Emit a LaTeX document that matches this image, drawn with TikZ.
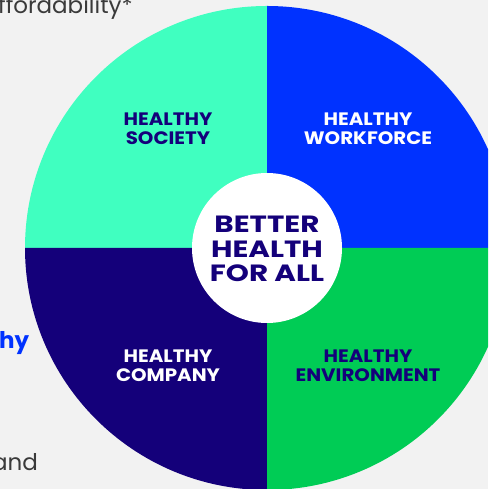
\documentclass[tikz,border=0pt]{standalone}
\usepackage{fontspec}
\setmainfont{Poppins}
\newfontfamily\hubfont[FakeStretch=1.25]{Poppins}
\newfontfamily\quadfont[FakeStretch=1.1]{Poppins}
\definecolor{bg}{HTML}{F2F2F2}
\definecolor{mint}{HTML}{40FFC0}
\definecolor{vivid}{HTML}{0032FF}
\definecolor{leaf}{HTML}{00CC55}
\definecolor{navy}{HTML}{14007A}
\definecolor{ink}{HTML}{3A3A3A}
\begin{document}
\begin{tikzpicture}[x=1pt,y=1pt,
  quadlabel/.style={align=center,font=\quadfont\fontsize{18}{19}\selectfont\bfseries,inner sep=0pt},
  sidetext/.style={anchor=base west,inner sep=0pt,font=\fontsize{23}{23}\selectfont,text=ink}]
\fill[bg] (0,0) rectangle (488,489);
\useasboundingbox (0,0) rectangle (488,489);
\begin{scope}
\clip (0,0) rectangle (488,489);
\coordinate (C) at (267,241);
% four quadrants of the disc
\fill[mint]  (C) -- ++(90:242)  arc[start angle=90, end angle=180,radius=242] -- cycle;
\fill[vivid] (C) -- ++(0:242)   arc[start angle=0,  end angle=90, radius=242] -- cycle;
\fill[navy]  (C) -- ++(180:242) arc[start angle=180,end angle=270,radius=242] -- cycle;
\fill[leaf]  (C) -- ++(270:242) arc[start angle=270,end angle=360,radius=242] -- cycle;
% central disc
\fill[white] (C) circle[radius=75];
\node[align=center,font=\hubfont\fontsize{23.5}{24.5}\selectfont\bfseries,text=navy,inner sep=0pt] (hub) at ([yshift=-1]C) {BETTER\\HEALTH\\FOR ALL};
\node[quadlabel,text=navy]  (society) at (168,360) {HEALTHY\\SOCIETY};
\node[quadlabel,text=white] (workforce) at (368,360) {HEALTHY\\WORKFORCE};
\node[quadlabel,text=white] (company) at (168,123) {HEALTHY\\COMPANY};
\node[quadlabel,text=navy]  (environment) at (368,123) {HEALTHY\\ENVIRONMENT};
% side text running in from the left
\node[sidetext] (afford) at (-2,475) {ffordability*};
\node[sidetext,text=vivid,font=\fontsize{23}{23}\selectfont\bfseries] (hy) at (-1,140) {hy};
\node[sidetext] (and) at (-8,18) {and};
\end{scope}
\end{tikzpicture}
\end{document}
